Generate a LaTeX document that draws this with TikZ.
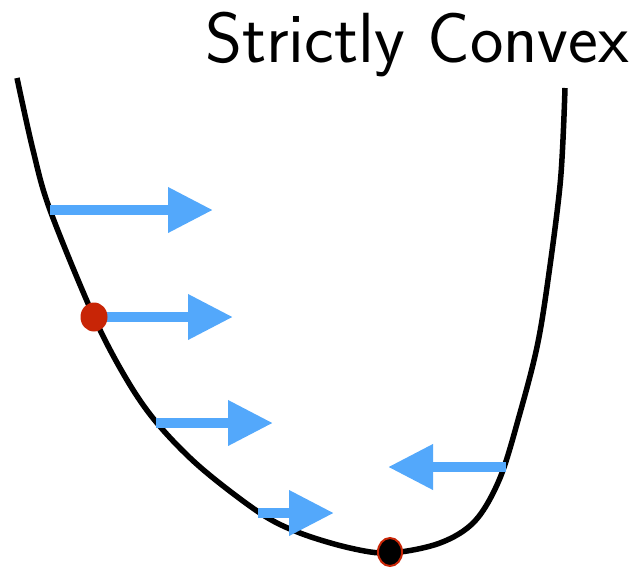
\documentclass[tikz,border=0pt]{standalone}
\usetikzlibrary{arrows.meta,shapes.geometric}
\definecolor{arrowblue}{RGB}{83,168,251}
\definecolor{dotred}{RGB}{200,37,6}
\tikzset{
  grad/.style={arrowblue, line width=10pt, -{Triangle[length=45pt, width=43pt]}},
  curve/.style={black, line width=5.5pt},
  reddot/.style={ellipse, fill=dotred, inner sep=0pt, minimum width=27pt, minimum height=29pt},
  mindot/.style={ellipse, fill=black, draw=dotred, line width=2pt, inner sep=0pt, minimum width=24pt, minimum height=28pt}
}
\begin{document}
\begin{tikzpicture}[x=1pt,y=-1pt]
\useasboundingbox (0,0) rectangle (638,571);
\node[anchor=base east, inner sep=0pt, font=\sffamily\fontsize{71}{71}\selectfont] (title) at (629,62) {Strictly Convex};
\draw[curve] plot[smooth, tension=0.55] coordinates {
 (17,78) (33,150) (50,210) (94,317) (127,380) (157,423) (200,467) (260,513) (300,533) (350,548) (390,553) (440,543) (475,521) (500,478) (520,413) (537,347) (548,280) (560.5,180) (565,88)};
\coordinate (a1s) at (50,210); \coordinate (a1e) at (213,210);
\coordinate (a2s) at (96,317); \coordinate (a2e) at (233,317);
\coordinate (a3s) at (156,423); \coordinate (a3e) at (273,423);
\coordinate (a4s) at (258,513); \coordinate (a4e) at (334,513);
\coordinate (a5s) at (506,467); \coordinate (a5e) at (388,467);
\draw[grad] (a1s) -- (a1e);
\draw[grad] (a2s) -- (a2e);
\draw[grad] (a3s) -- (a3e);
\draw[grad] (a4s) -- (a4e);
\draw[grad] (a5s) -- (a5e);
\node[reddot] (start) at (94,317) {};
\node[mindot] (min) at (390,552) {};
\end{tikzpicture}
\end{document}
